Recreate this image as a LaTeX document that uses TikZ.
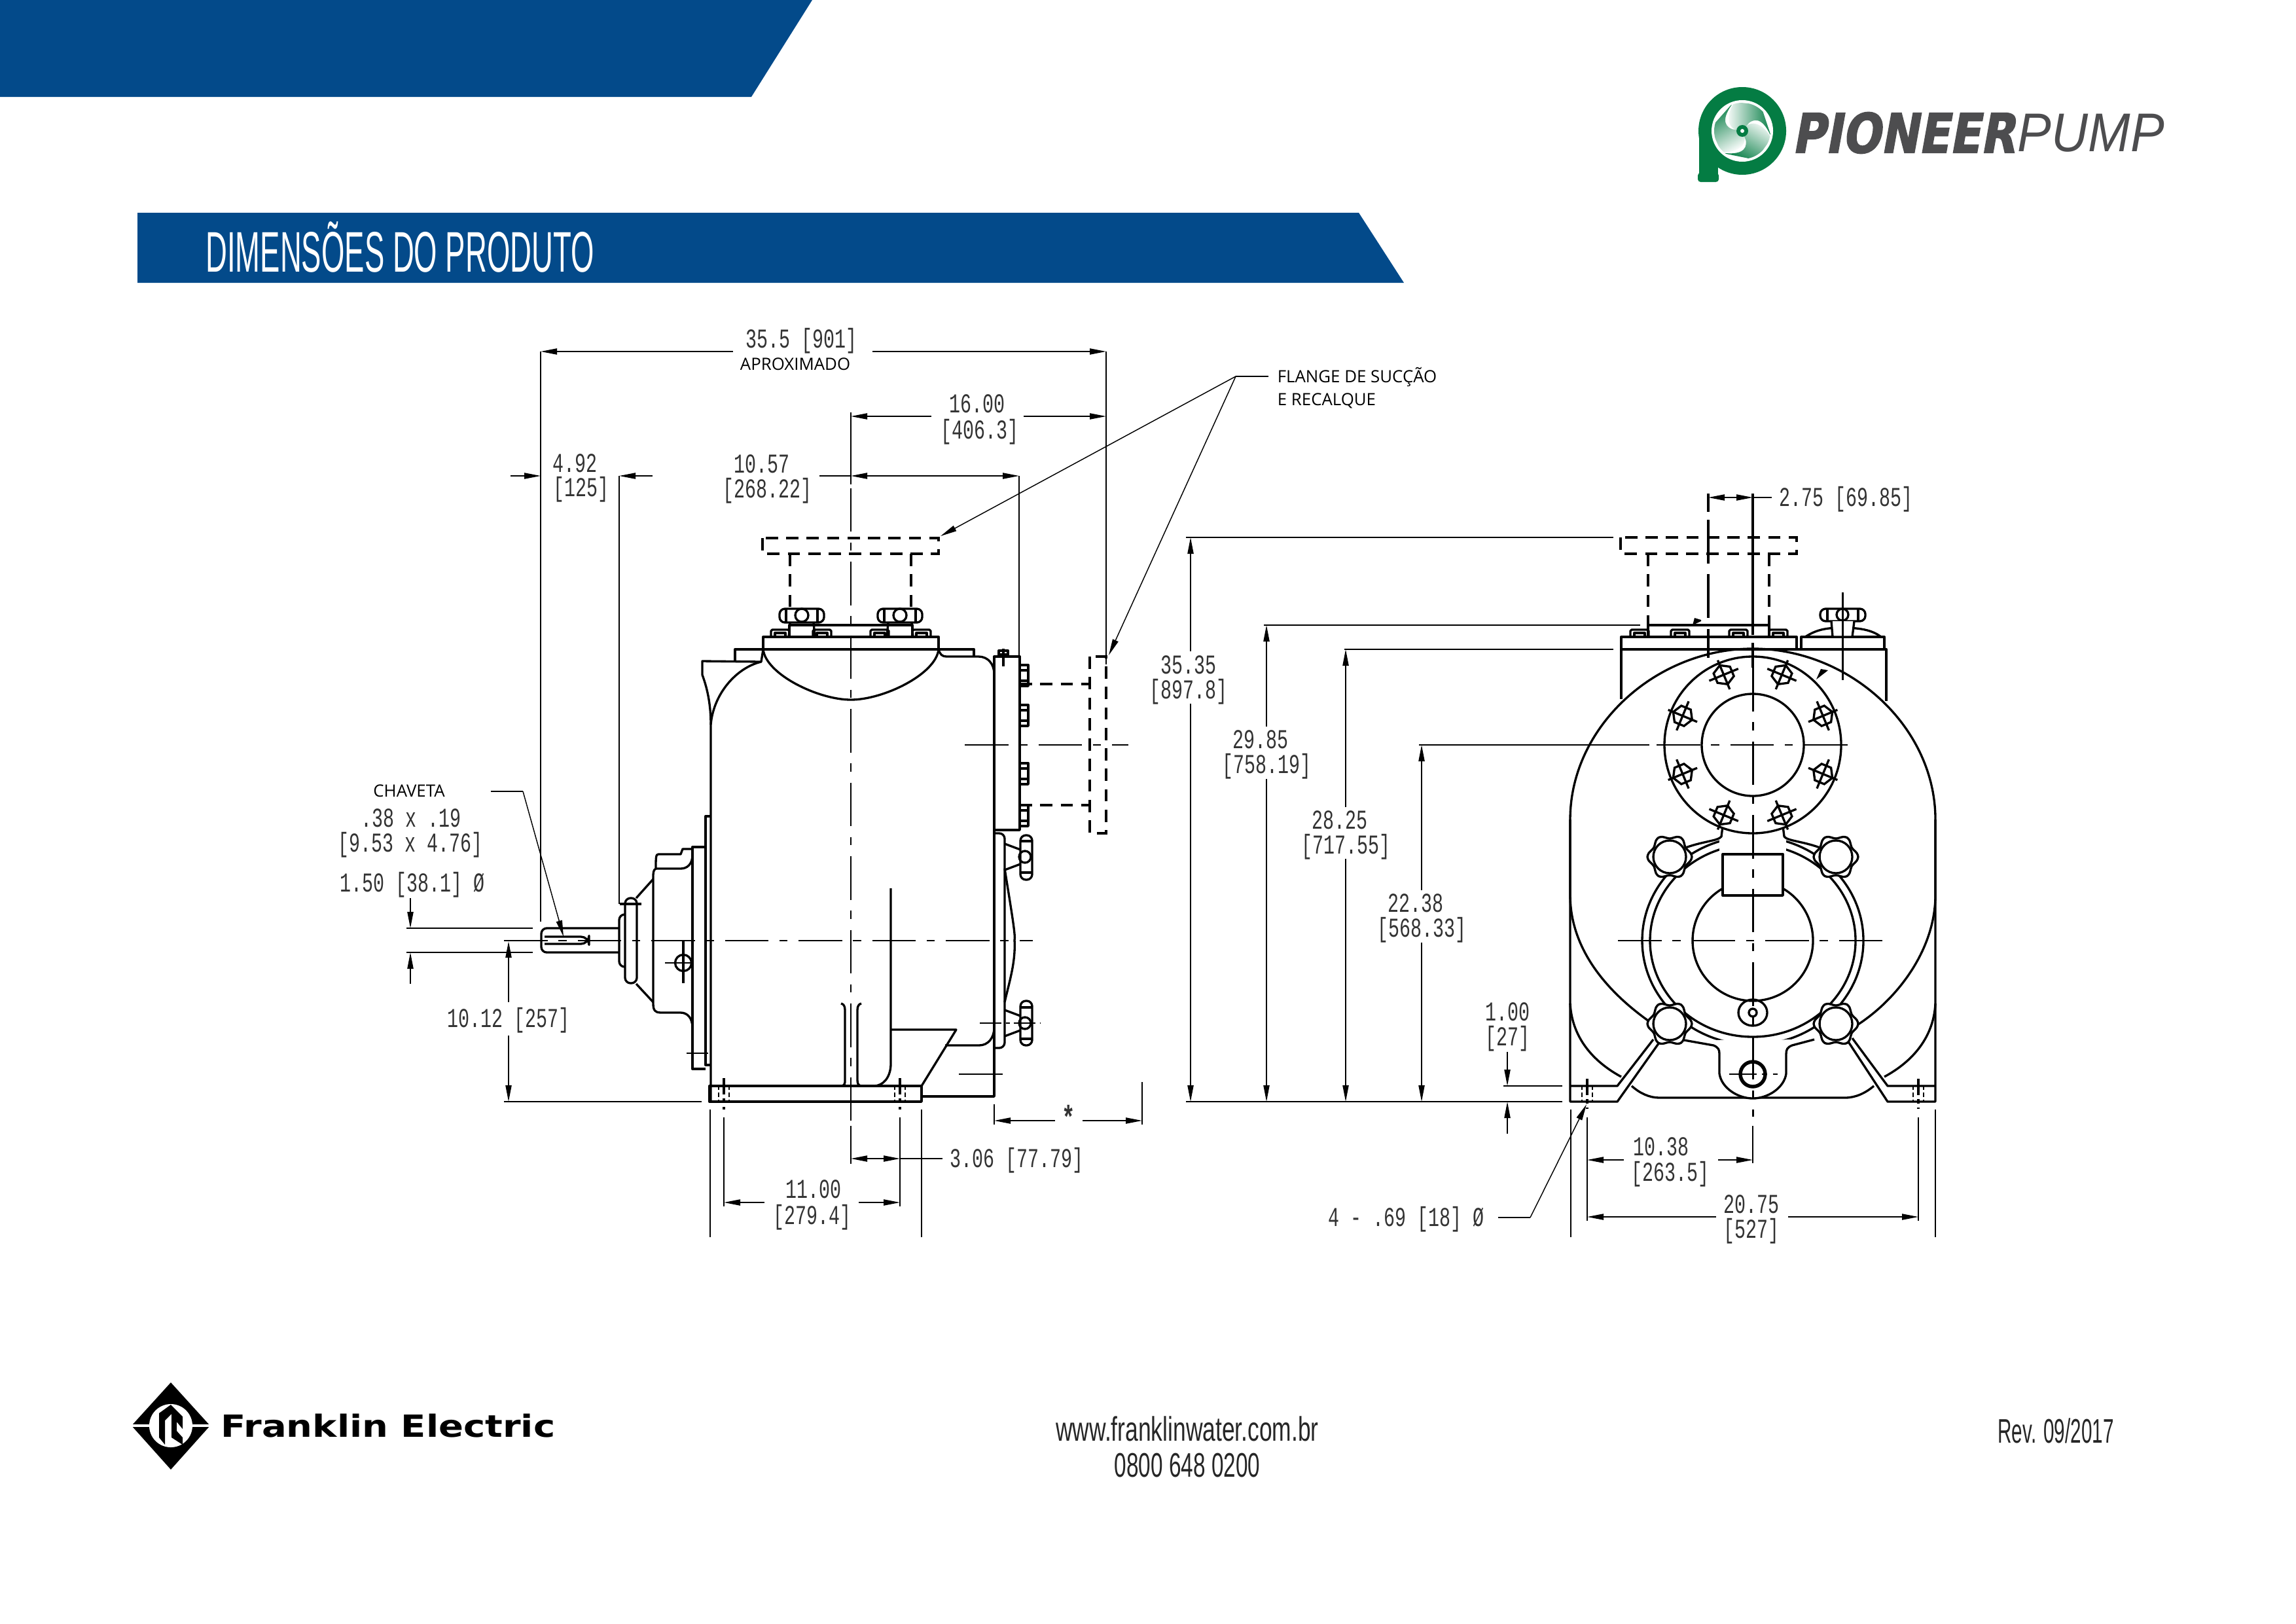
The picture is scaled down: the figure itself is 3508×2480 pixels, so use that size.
\documentclass[tikz,border=0pt]{standalone}
\usepackage{fontspec}
\usetikzlibrary{arrows.meta,shapes.geometric}
\newfontfamily\dimfont[FakeStretch=0.68]{Liberation Mono}
\newfontfamily\notefont{Open Sans}
\newfontfamily\footfont[FakeStretch=0.68]{Liberation Sans}
\newfontfamily\phonefont[FakeStretch=0.64]{Liberation Sans}
\newfontfamily\revfont[FakeStretch=0.57]{Liberation Sans}
\newfontfamily\titlefont[FakeStretch=0.52]{Liberation Sans}
\newfontfamily\logoheavy[UprightFont=* Bold,FakeSlant=0.18,FakeBold=2,FakeStretch=0.83]{DejaVu Sans}
\newfontfamily\logothin[FakeStretch=0.93]{Liberation Sans}
\newfontfamily\brandfont[UprightFont=* Bold,FakeStretch=1.2]{DejaVu Sans}
\definecolor{bannerblue}{HTML}{034A8A}
\definecolor{logogreen}{HTML}{047C43}
\definecolor{logogrey}{HTML}{4D4D4F}
\tikzset{
  part/.style={line width=0.8pt,line join=round},
  fine/.style={line width=0.35pt},
  hidden/.style={line width=0.8pt,dash pattern=on 4.5pt off 3pt},
  cline/.style={line width=0.7pt,dash pattern=on 16pt off 4pt on 3pt off 4pt},
  dimline/.style={line width=0.4pt,-{Stealth[length=6pt,width=2.2pt,inset=0pt]}},
  dimtxt/.style={font=\dimfont\fontsize{10}{10}\selectfont,inner sep=0pt,text height=6.5pt,text depth=0pt,text=black!80},
  notetxt/.style={font=\notefont\fontsize{6.2}{6.2}\selectfont,inner sep=0pt,text height=4.4pt,text depth=0pt},
  foottxt/.style={font=\fontsize{12.5}{12.5}\selectfont,inner sep=0pt,text=black!85},
  hexbolt/.style={regular polygon,regular polygon sides=6,draw,line width=0.8pt,minimum size=7.5pt,inner sep=0pt},
}
% flower shaped hand knob on the end view
\newcommand{\flowerknob}[2]{%
  \draw[part,fill=white] plot[smooth cycle,domain=0:350,samples=36] ({#1+(31+3*cos(6*\x))*cos(\x)},{#2+(31+3*cos(6*\x))*sin(\x)});
  \draw[part,fill=white] (#1,#2) circle[radius=25];
}
\begin{document}
\begin{tikzpicture}[x=0.24pt,y=-0.24pt]
\useasboundingbox (0,0) rectangle (3508,2480);
% banners
\fill[bannerblue] (0,0) -- (1241,0) -- (1148,148) -- (0,148) -- cycle;
\fill[bannerblue] (210,325) -- (2076,325) -- (2145,432) -- (210,432) -- cycle;
\node[font=\titlefont\fontsize{21}{21}\selectfont,text=white,inner sep=0pt] (title) at (611,378) {DIMENSÕES DO PRODUTO};

% pioneer logo
\fill[logogreen] (2662,200) circle[radius=67];
\fill[logogreen] (2596,200) rectangle (2625,270);
\fill[logogreen,rounded corners=1pt] (2594,264) rectangle (2626,278);
\fill[white] (2662,200) circle[radius=47];
\begin{scope}
\clip (2662,200) circle[radius=43];
\foreach \a in {0,120,240}{
  \shade[shift={(2662,200)},rotate=\a,left color=white,right color=logogreen,shading angle=90+\a]
    (0,0) .. controls (-25,0) and (-25,-25) .. (-12,-44) -- (28,-40) -- (46,14) .. controls (35,-15) and (22,-22) .. (10,-12) -- cycle;
}
\end{scope}
\fill[logogreen] (2662,200) circle[radius=9];
\fill[white] (2662,200) circle[radius=3];
\node[font=\logoheavy\fontsize{20}{20}\selectfont,text=logogrey,inner sep=0pt,anchor=west] (pioneer) at (2737,203) {PIONEER};
\node[font=\logothin\itshape\fontsize{20}{20}\selectfont,text=logogrey,inner sep=0pt,anchor=west] (pump) at (3082,203) {PUMP};

% franklin logo
\fill[black] (261,2112) -- (321,2178) -- (261,2245) -- (201,2178) -- cycle;
\fill[white] (261,2178) circle[radius=33];
\fill[white] (201,2176) rectangle (321,2180);
\fill[black] (261,2146) -- (243,2159) -- (243,2196) -- (252,2207) -- (252,2170) -- (262,2160) -- (262,2196) -- (279,2207) -- (279,2196) -- (270,2186) -- (270,2172) -- (279,2183) -- (279,2164) -- cycle;
\node[font=\brandfont\fontsize{11.2}{11.2}\selectfont,inner sep=0pt,anchor=west] (franklin) at (337,2178) {Franklin Electric};

% footer
\node[foottxt,font=\footfont\fontsize{12.5}{12.5}\selectfont] (site) at (1814,2183) {www.franklinwater.com.br};
\node[foottxt,font=\phonefont\fontsize{12.5}{12.5}\selectfont] (phone) at (1814,2239) {0800 648 0200};
\node[foottxt,font=\revfont\fontsize{12.5}{12.5}\selectfont] (rev) at (3141,2186) {Rev. 09/2017};

%% side view
% suction flange, dashed
\draw[hidden] (1165,822) rectangle (1434,846);
\draw[hidden] (1207,846) -- (1207,932) (1392,846) -- (1392,932);
\draw[hidden] (1558,1045) -- (1665,1045) (1558,1230) -- (1665,1230);
\draw[hidden] (1665,1003) rectangle (1690,1273);
% cover and strip
\draw[part] (1206,973) -- (1206,955) -- (1394,955) -- (1394,973);
\draw[part] (1166,973) rectangle (1434,992);
\foreach \bx in {1192,1256,1344,1408}{
  \draw[part] (\bx-14,973) -- (\bx-14,964) -- (\bx-12,962) -- (\bx+12,962) -- (\bx+14,964) -- (\bx+14,973);
  \draw[part] (\bx-8,973) -- (\bx-8,967) -- (\bx+8,967) -- (\bx+8,973);
}
\foreach \kx in {1225,1375}{
  \draw[part,rounded corners=2pt] (\kx-34,930) rectangle (\kx+34,951);
  \draw[part] (\kx,940) circle[radius=10];
  \draw[part] (\kx-24,930) -- (\kx-24,951) (\kx+24,930) -- (\kx+24,951);
  \draw[part] (\kx-18,951) -- (\kx-20,973) (\kx+18,951) -- (\kx+20,973);
}
\draw[part] (1166,992) .. controls (1170,1030) and (1250,1069) .. (1300,1069) .. controls (1350,1069) and (1430,1030) .. (1434,992);
\draw[part] (1123,1010) -- (1123,992) -- (1166,992) (1434,992) -- (1488,992) -- (1488,1003);
% casing
\draw[part] (1163,1011) -- (1073,1010) -- (1073,1031) .. controls (1082,1055) and (1086,1080) .. (1086,1107) -- (1086,1683);
\draw[part] (1086,1107) .. controls (1090,1060) and (1125,1020) .. (1163,1011) -- (1166,992);
\draw[part] (1434,992) .. controls (1436,1000) and (1440,1003) .. (1446,1003) -- (1495,1003) .. controls (1510,1003) and (1519,1015) .. (1519,1030);
\draw[part] (1519,1003) -- (1519,1675) -- (1408,1675);
\draw[part] (1519,1003) rectangle (1558,1268);
\foreach \by in {1016,1077,1166,1230}{
  \draw[part] (1558,\by) -- (1571,\by) -- (1571,\by+32) -- (1558,\by+32);
  \draw[part] (1558,\by+8) -- (1571,\by+8) (1558,\by+24) -- (1571,\by+24);
}
\draw[part] (1533,991) -- (1533,1018) (1524,1000) -- (1542,1000);
\draw[part] (1526,1003) -- (1526,994) -- (1540,994) -- (1540,1003);
% base
\draw[part] (1084,1659) rectangle (1408,1683);
\draw[part] (1086,1659) -- (1284,1659) .. controls (1291,1659) and (1291,1655) .. (1291,1650) -- (1291,1543) .. controls (1291,1537) and (1289,1534) .. (1285,1533);
\draw[part] (1316,1533) .. controls (1312,1534) and (1310,1537) .. (1310,1543) -- (1310,1650) .. controls (1310,1655) and (1311,1659) .. (1317,1659) -- (1408,1659);
\draw[part] (1361,1357) -- (1361,1625) .. controls (1361,1645) and (1350,1659) .. (1335,1659);
\draw[part] (1361,1573) -- (1461,1573) -- (1408,1659);
\draw[part] (1444,1597) -- (1496,1597) .. controls (1510,1597) and (1519,1585) .. (1519,1570);
\foreach \hx in {1106,1375}{
  \draw[part,dash pattern=on 6pt off 1.5pt on 1.5pt off 1.5pt] (\hx,1647) -- (\hx,1695);
  \draw[line width=0.6pt,dash pattern=on 1.5pt off 1pt] (\hx-8,1659) -- (\hx-8,1683) (\hx+8,1659) -- (\hx+8,1683);
}
% bearing housing and shaft
\draw[part] (1086,1247) -- (1078,1247) -- (1078,1627) -- (1086,1627);
\draw[part] (1078,1294) -- (1058,1294) -- (1058,1633) -- (1078,1633);
\draw[part] (1058,1297) -- (1043,1297) -- (1040,1305) -- (1006,1305) .. controls (1002,1305) and (1002,1310) .. (1002,1327) .. controls (998,1329) and (998,1334) .. (998,1340) -- (998,1534) .. controls (998,1544) and (1002,1547) .. (1009,1547) -- (1040,1547) .. controls (1050,1547) and (1058,1555) .. (1058,1570);
\draw[part] (1058,1306) .. controls (1058,1320) and (1050,1327) .. (1040,1327) -- (1002,1327);
\draw[part] (972,1372) -- (998,1343) (972,1503) -- (998,1531);
\draw[part,rounded corners=2pt] (955,1372) rectangle (973,1502);
\draw[part,rounded corners=2pt] (955,1397) -- (946,1397) -- (946,1477) -- (955,1477);
\draw[part,rounded corners=2pt] (946,1418) -- (827,1418) -- (827,1455) -- (946,1455);
\draw[part,rounded corners=3pt] (832,1431) -- (900,1431) -- (900,1442) -- (832,1442);
\draw[part] (1044,1471) circle[radius=12.5];
\draw[cline,dash pattern=on 10pt off 1pt on 1pt off 1pt] (1016,1471) -- (1058,1471);
\draw[part] (1044,1437) -- (1044,1502);
\draw[part] (947,1381) -- (980,1381);
% right hand side plate and knobs
\draw[part,rounded corners=2pt] (1519,1273) -- (1535,1273) -- (1535,1601) -- (1519,1601);
\draw[part] (1535,1327) .. controls (1545,1390) and (1552,1430) .. (1550,1436) .. controls (1552,1470) and (1542,1500) .. (1535,1531);
\foreach \ky/\kt in {1309/1276,1563/1529}{
  \draw[part,rounded corners=2pt] (1559,\kt) rectangle (1577,\kt+68);
  \draw[part] (1566,\ky) circle[radius=9];
  \draw[part] (1559,\ky-24) -- (1577,\ky-24) (1559,\ky+24) -- (1577,\ky+24);
  \draw[part] (1535,\ky-20) -- (1559,\ky-11) (1535,\ky+20) -- (1559,\ky+11);
}
% centre lines
\draw[cline] (1300,633) -- (1300,1778);
\draw[cline] (770,1437) -- (1578,1437);
\draw[cline] (1474,1138) -- (1724,1138);
\draw[cline] (1465,1641) -- (1538,1641);
\draw[cline] (1049,1609) -- (1082,1609);
\draw[cline,dash pattern=on 8pt off 1.5pt on 1.5pt off 1.5pt] (1497,1563) -- (1590,1563);

%% end view
\draw[hidden] (2476,821) rectangle (2745,846);
\draw[hidden] (2518,846) -- (2518,955) (2703,846) -- (2703,955);
\draw[part] (2518,973) -- (2518,955) -- (2703,955) -- (2703,973);
\foreach \bx in {2505,2567,2656,2717}{
  \draw[part] (\bx-14,973) -- (\bx-14,964) -- (\bx-12,962) -- (\bx+12,962) -- (\bx+14,964) -- (\bx+14,973);
  \draw[part] (\bx-8,973) -- (\bx-8,967) -- (\bx+8,967) -- (\bx+8,973);
}
\draw[part] (2477,992) -- (2477,973) -- (2745,973) -- (2745,992);
\draw[part] (2752,992) -- (2752,973) -- (2879,973) -- (2879,992);
\draw[part] (2477,992) -- (2882,992) -- (2882,1071);
\draw[part] (2477,992) -- (2477,1068);
\draw[part] (2758,973) .. controls (2775,962) and (2790,959) .. (2814,959) .. controls (2840,959) and (2860,962) .. (2874,973);
\draw[part,rounded corners=2pt] (2781,930) rectangle (2850,949);
\draw[part] (2815,939) circle[radius=9];
\draw[part] (2792,930) -- (2792,949) (2839,930) -- (2839,949);
\draw[part,fill=white] (2798,949) -- (2800,973) -- (2830,973) -- (2833,949);
% casing
\draw[part] (2522,1562) .. controls (2455,1515) and (2399,1450) .. (2399,1367) -- (2399,1252) .. controls (2399,1110) and (2530,991) .. (2678,991) .. controls (2826,991) and (2957,1110) .. (2957,1252) -- (2957,1367) .. controls (2957,1450) and (2900,1525) .. (2839,1565);
\draw[part] (2399,1252) -- (2399,1683) -- (2471,1683) -- (2537,1590);
\draw[part] (2399,1659) -- (2471,1659) -- (2526,1588);
\draw[part] (2957,1252) -- (2957,1683) -- (2884,1683) -- (2823,1590);
\draw[part] (2957,1659) -- (2884,1659) -- (2830,1586);
\draw[part] (2399,1533) .. controls (2402,1590) and (2440,1625) .. (2477,1645);
\draw[part] (2957,1533) .. controls (2954,1590) and (2916,1625) .. (2879,1645);
\draw[part] (2493,1659) .. controls (2505,1670) and (2520,1677) .. (2535,1677) -- (2819,1677) .. controls (2835,1677) and (2850,1670) .. (2863,1659);
% volute
\draw[part] (2678,1437) circle[x radius=169,y radius=159];
\draw[part] (2678,1437) circle[x radius=157,y radius=147];
\fill[white] (2627,1270) rectangle (2729,1300);
\draw[part] (2570,1297) .. controls (2600,1285) and (2625,1285) .. (2630,1278) -- (2632,1262);
\draw[part] (2786,1297) .. controls (2756,1285) and (2731,1285) .. (2726,1278) -- (2724,1262);
\draw[part] (2678,1437) circle[radius=92];
\draw[part,fill=white] (2632,1305) rectangle (2724,1368);
\draw[part] (2678,1547) circle[x radius=22,y radius=20];
\draw[part] (2678,1547) circle[radius=6];
\fill[white] (2626,1596) rectangle (2730,1640);
\draw[part,fill=white] (2573,1589) -- (2618,1597) .. controls (2625,1600) and (2627,1603) .. (2627,1610) -- (2627,1640) .. controls (2630,1662) and (2655,1678) .. (2678,1678) .. controls (2701,1678) and (2726,1662) .. (2729,1640) -- (2729,1610) .. controls (2729,1603) and (2731,1600) .. (2738,1597) -- (2772,1588);
\draw[line width=1.3pt] (2678,1641) circle[x radius=19,y radius=19];
% suction flange and bolts
\draw[part,fill=white] (2678,1138) circle[radius=135];
\draw[part] (2678,1138) circle[radius=78];
\begin{scope}[shift={(2678,1138)}]
\foreach \a in {22.5,67.5,112.5,157.5,202.5,247.5,292.5,337.5}{
  \node[hexbolt,rotate=-\a] (bolt\a) at (\a:116) {};
  \draw[part,shift={(\a:116)},rotate=-\a] (0,-24) -- (0,24) (-24,0) -- (24,0);
}
\end{scope}
\flowerknob{2551}{1309}
\flowerknob{2805}{1309}
\flowerknob{2551}{1564}
\flowerknob{2805}{1564}
\foreach \hx in {2425,2931}{
  \draw[part,dash pattern=on 6pt off 1.5pt on 1.5pt off 1.5pt] (\hx,1648) -- (\hx,1694);
  \draw[line width=0.6pt,dash pattern=on 1.5pt off 1pt] (\hx-8,1659) -- (\hx-8,1683) (\hx+8,1659) -- (\hx+8,1683);
}
\fill (2599,947) -- (2589,944) -- (2586,955) -- (2599,949) -- cycle;
\fill (2775,1038) -- (2793,1024) -- (2782,1022) -- cycle;
% centre lines
\draw[part] (2678,754) -- (2678,970) (2678,982) -- (2678,1020);
\draw[cline] (2678,1020) -- (2678,1706);
\draw[part] (2610,754) -- (2610,782);
\draw[hidden,dash pattern=on 16pt off 4pt] (2610,794) -- (2610,1005);
\draw[cline] (2531,1138) -- (2825,1138);
\draw[cline] (2472,1437) -- (2890,1437);
\draw[cline,dash pattern=on 10pt off 2pt on 2pt off 2pt] (2642,1641) -- (2716,1641);
\draw[cline,dash pattern=on 40pt off 2pt on 2pt off 2pt] (2815,905) -- (2815,1039);

%% dimensions
\draw[fine] (826,537) -- (826,1408);
\draw[fine] (1690,537) -- (1690,1015);
\draw[fine] (1300,630) -- (1300,740);
\draw[fine] (946,727) -- (946,1381);
\draw[fine] (1557,727) -- (1557,1015);
\node[dimtxt] (d355) at (1224,518) {35.5 [901]};
\node[notetxt] (aprox) at (1215,556) {APROXIMADO};
\draw[dimline] (1120,537) -- (826,537);
\draw[dimline] (1333,537) -- (1690,537);
\node[dimtxt] (d16a) at (1493,617) {16.00};
\node[dimtxt] (d16b) at (1497,657) {[406.3]};
\draw[dimline] (1423,636) -- (1300,636);
\draw[dimline] (1564,636) -- (1690,636);
\node[dimtxt] (d492a) at (878,708) {4.92};
\node[dimtxt] (d492b) at (888,745) {[125]};
\draw[dimline] (780,727) -- (826,727);
\draw[dimline] (997,727) -- (946,727);
\node[dimtxt] (d1057a) at (1164,709) {10.57};
\node[dimtxt] (d1057b) at (1172,747) {[268.22]};
\draw[line width=0.4pt] (1252,727) -- (1300,727);
\draw[dimline] (1340,727) -- (1300,727);
\draw[dimline] (1340,727) -- (1557,727);
% flange leader
\node[notetxt,anchor=west,text height=4.4pt] (flange) at (1951,575) {FLANGE DE SUCÇÃO};
\node[notetxt,anchor=west] (recalque) at (1951,610) {E RECALQUE};
\coordinate (flangejoint) at (1888,575);
\draw[fine] (1938,575) -- (flangejoint);
\draw[dimline,line width=0.35pt] (flangejoint) -- (1437,819);
\draw[dimline,line width=0.35pt] (flangejoint) -- (1694,1001);
% shaft key
\node[notetxt] (chaveta) at (625,1208) {CHAVETA};
\node[dimtxt] (key1) at (628,1250) {.38 x .19};
\node[dimtxt] (key2) at (627,1288) {[9.53 x 4.76]};
\node[dimtxt] (d150) at (630,1349) {1.50 [38.1] Ø};
\coordinate (keybend) at (799,1209);
\draw[fine] (750,1209) -- (keybend);
\draw[dimline,line width=0.35pt] (keybend) -- (861,1431);
\draw[fine] (621,1418) -- (814,1418) (621,1455) -- (814,1455);
\draw[dimline] (627,1372) -- (627,1418);
\draw[dimline] (627,1503) -- (627,1455);
\node[dimtxt] (d1012) at (777,1556) {10.12 [257]};
\draw[dimline] (777,1531) -- (777,1438);
\draw[dimline] (777,1582) -- (777,1683);
\draw[fine] (770,1683) -- (1072,1683);
% under the side view
\draw[fine] (1085,1695) -- (1085,1890) (1408,1695) -- (1408,1890);
\draw[fine] (1106,1707) -- (1106,1843) (1375,1707) -- (1375,1843);
\draw[fine] (1300,1720) -- (1300,1777);
\draw[dimline] (1340,1770) -- (1300,1770);
\draw[dimline] (1340,1770) -- (1375,1770);
\draw[fine] (1375,1770) -- (1440,1770);
\node[dimtxt] (d306) at (1553,1770) {3.06 [77.79]};
\node[dimtxt] (d11a) at (1243,1817) {11.00};
\node[dimtxt] (d11b) at (1241,1857) {[279.4]};
\draw[dimline] (1168,1837) -- (1106,1837);
\draw[dimline] (1312,1837) -- (1375,1837);
\draw[line width=0.6pt] (1519,1687) -- (1519,1718);
\draw[line width=0.6pt] (1745,1653) -- (1745,1718);
\node[dimtxt,font=\dimfont\bfseries\fontsize{12}{12}\selectfont,text height=5pt] (star) at (1633,1714) {*};
\draw[dimline] (1612,1712) -- (1519,1712);
\draw[dimline] (1654,1712) -- (1745,1712);
% end view, heights
\node[dimtxt] (d275) at (2820,760) {2.75 [69.85]};
\draw[dimline] (2650,760) -- (2610,760);
\draw[dimline] (2650,760) -- (2678,760);
\draw[fine] (2678,760) -- (2707,760);
\draw[fine] (1812,821) -- (2465,821);
\draw[fine] (1931,955) -- (2506,955);
\draw[fine] (2054,992) -- (2465,992);
\draw[fine] (2168,1138) -- (2520,1138);
\draw[line width=0.55pt] (1812,1683) -- (2387,1683);
\node[dimtxt] (d3535a) at (1816,1016) {35.35};
\node[dimtxt] (d3535b) at (1816,1054) {[897.8]};
\draw[dimline] (1819,995) -- (1819,821);
\draw[dimline] (1819,1075) -- (1819,1683);
\node[dimtxt] (d2985a) at (1926,1130) {29.85};
\node[dimtxt] (d2985b) at (1935,1168) {[758.19]};
\draw[dimline] (1935,1110) -- (1935,955);
\draw[dimline] (1935,1190) -- (1935,1683);
\node[dimtxt] (d2825a) at (2047,1253) {28.25};
\node[dimtxt] (d2825b) at (2056,1291) {[717.55]};
\draw[dimline] (2056,1233) -- (2056,992);
\draw[dimline] (2056,1312) -- (2056,1683);
\node[dimtxt] (d2238a) at (2163,1380) {22.38};
\node[dimtxt] (d2238b) at (2172,1418) {[568.33]};
\draw[dimline] (2172,1360) -- (2172,1138);
\draw[dimline] (2172,1440) -- (2172,1683);
\node[dimtxt] (d100a) at (2303,1546) {1.00};
\node[dimtxt] (d100b) at (2303,1584) {[27]};
\draw[fine] (2297,1659) -- (2387,1659);
\draw[dimline] (2303,1607) -- (2303,1659);
\draw[dimline] (2303,1732) -- (2303,1683);
% under the end view
\draw[fine] (2400,1695) -- (2400,1890) (2957,1695) -- (2957,1890);
\draw[fine] (2425,1707) -- (2425,1865) (2931,1707) -- (2931,1865);
\draw[fine] (2678,1720) -- (2678,1777);
\node[dimtxt] (d1038a) at (2538,1752) {10.38};
\node[dimtxt] (d1038b) at (2552,1791) {[263.5]};
\draw[dimline] (2481,1772) -- (2425,1772);
\draw[dimline] (2625,1772) -- (2678,1772);
\node[dimtxt] (d2075a) at (2676,1840) {20.75};
\node[dimtxt] (d2075b) at (2676,1878) {[527]};
\draw[dimline] (2622,1859) -- (2425,1859);
\draw[dimline] (2732,1859) -- (2931,1859);
\node[dimtxt] (dhole) at (2148,1860) {4 - .69 [18] Ø};
\coordinate (holebend) at (2338,1860);
\draw[fine] (2289,1860) -- (holebend);
\draw[dimline,line width=0.35pt] (holebend) -- (2424,1687);
\end{tikzpicture}
\end{document}
